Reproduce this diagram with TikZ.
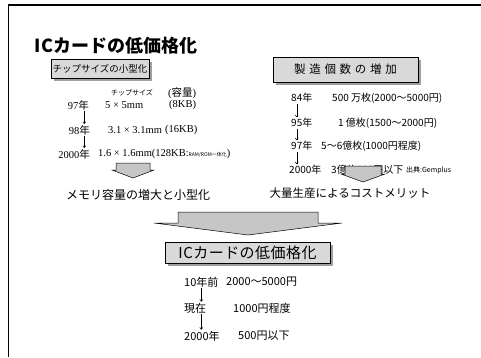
\documentclass[tikz,border=0pt]{standalone}
\usepackage{fontspec}
\setmainfont{Noto Sans CJK JP}
\newfontfamily\latserif{Liberation Serif}
\usetikzlibrary{arrows.meta,shadows}

\tikzstyle{headbox} = [rectangle, draw=black, fill=gray!30, inner sep=1pt, drop shadow={shadow xshift=2.5pt, shadow yshift=-2.5pt, fill=gray!75, opacity=1}]
\tikzstyle{lefttxt} = [font=\fontsize{10.5}{12}\selectfont, inner sep=1pt]
\tikzstyle{righttxt} = [font=\fontsize{10}{12}\selectfont, inner sep=1pt]
\tikzstyle{bottxt} = [font=\fontsize{11}{13}\selectfont, inner sep=1pt]
\tikzstyle{sumtxt} = [font=\fontsize{12}{14}\selectfont, inner sep=1pt]
\tikzstyle{arrow} = [line width=0.5pt, -{To[length=2.5pt,width=3.5pt]}]
\tikzstyle{blockfill} = [draw=black, line width=0.5pt, fill=gray!45]

\newcommand{\downblock}[6]{%
  \draw[blockfill] (#1-#3,#2) -- (#1+#3,#2) -- (#1+#3,#2+#5) -- (#1+#4,#2+#5)
    -- (#1,#2+#5+#6) -- (#1-#4,#2+#5) -- (#1-#3,#2+#5) -- cycle;}

\begin{document}
\begin{tikzpicture}[x=1pt, y=-1pt]
\useasboundingbox (0,0) rectangle (481,357);
\draw[line width=1.3pt] (481,5) -- (8.5,5) -- (8.5,357);

\node (title) [font=\bfseries\fontsize{18}{20}\selectfont] at (116,46) {ICカードの低価格化};

% left column
\node (chip) [headbox, minimum width=98pt, minimum height=19pt, inner xsep=0pt, font=\fontsize{9.5}{11}\selectfont] at (100,69) {チップサイズの小型化};
\node (hsz) [inner sep=1pt, font=\fontsize{7}{8}\selectfont, anchor=west] at (110,93) {チップサイズ};
\node (hcap) [lefttxt, anchor=west] at (167,93) {{\latserif (}容量{\latserif )}};
\node (yr97) [lefttxt, anchor=east] at (90,105) {{\latserif 97}年};
\node (sz97) [lefttxt, anchor=west] at (104,105) {\latserif 5 × 5mm};
\node (kb97) [lefttxt, anchor=west] at (168,105) {\latserif (8KB)};
\node (yr98) [lefttxt, anchor=east] at (91,130) {{\latserif 98}年};
\node (sz98) [lefttxt, anchor=west] at (107,130) {\latserif 3.1 × 3.1mm};
\node (kb98) [lefttxt, anchor=west] at (164,130) {\latserif (16KB)};
\node (yr00) [lefttxt, anchor=east] at (91,154) {{\latserif 2000}年};
\node (sz00) [lefttxt, anchor=west] at (97,154) {{\latserif 1.6 × 1.6mm(128KB:}{\fontsize{5}{6}\selectfont RAM/ROM一体化}{\latserif )}};
\node (memo) [sumtxt] at (138,195) {メモリ容量の増大と小型化};

\draw [arrow] ([xshift=6pt]yr97.south) -- ([xshift=6pt]yr97.south |- yr98.north);
\draw [arrow] ([xshift=6pt]yr97.south |- yr98.south) -- ([xshift=6pt]yr97.south |- yr00.north);
\downblock{133}{163}{17}{21}{7}{8}

% right column
\node (mfg) [headbox, minimum width=145pt, minimum height=25pt, font=\fontsize{11.5}{13}\selectfont\addfontfeatures{LetterSpace=32}] at (345.5,69.5) {製造個数の増加};
\node (yr84) [righttxt, anchor=west] at (290,98) {84年};
\node (ct84) [righttxt, anchor=west] at (331,98) {500 万枚(2000～5000円)};
\node (yr95) [righttxt, anchor=west] at (290,123) {95年};
\node (ct95) [righttxt, anchor=west] at (337,123) {1 億枚(1500～2000円)};
\node (yr97r) [righttxt, anchor=west] at (290,146) {97年};
\node (ct97) [righttxt, anchor=west] at (320,146) {5～6億枚(1000円程度)};
\node (yr00r) [righttxt, anchor=west] at (288,170) {2000年};
\node (ct00) [righttxt, anchor=west] at (330,170) {3億枚100円以下};
\node (src) [inner sep=1pt, font=\fontsize{7}{8}\selectfont, anchor=west] at (405,170) {出典:Gemplus};
\node (cost) [sumtxt, font=\fontsize{11.5}{13}\selectfont] at (350,193) {大量生産によるコストメリット};

\draw [arrow] ([xshift=-5pt]yr84.south) -- ([xshift=-5pt]yr84.south |- yr95.north);
\draw [arrow] ([xshift=-5pt]yr84.south |- yr95.south) -- ([xshift=-5pt]yr84.south |- yr97r.north);
\draw [arrow] ([xshift=-5pt]yr84.south |- yr97r.south) -- ([xshift=-5pt]yr84.south |- yr00r.north);
\downblock{363}{166}{18}{22}{8}{8}

% merge
\downblock{248}{212}{70}{94}{11}{12}
\node (cheap) [headbox, minimum width=165pt, minimum height=21pt, font=\fontsize{15}{17}\selectfont\addfontfeatures{LetterSpace=3}] at (247.5,252.5) {ICカードの低価格化};
\node (b10) [bottxt, anchor=west] at (183,282) {10年前};
\node (p10) [bottxt, anchor=west] at (225,282) {2000～5000円};
\node (bnow) [bottxt, anchor=west] at (183,308) {現在};
\node (pnow) [bottxt, anchor=west] at (232,308) {1000円程度};
\node (b2000) [bottxt, anchor=west] at (183,336) {2000年};
\node (p2000) [bottxt, anchor=west] at (237,336) {500円以下};

\draw [arrow] (b10) -- (b10 |- bnow.north);
\draw [arrow] (b10 |- bnow.south) -- (b10 |- b2000.north);
\end{tikzpicture}
\end{document}
